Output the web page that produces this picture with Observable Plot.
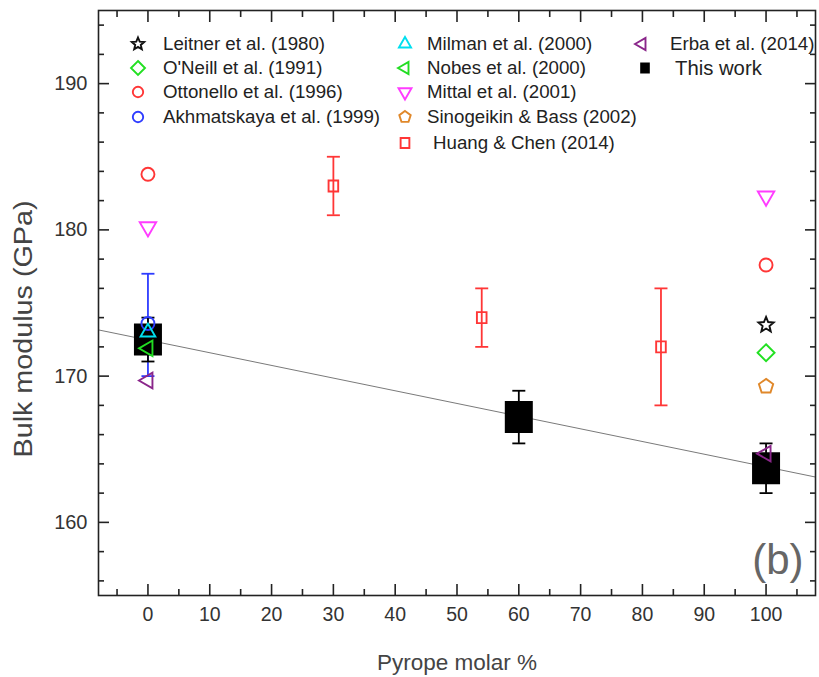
<!DOCTYPE html>
<html><head><meta charset="utf-8">
<script src="https://cdn.jsdelivr.net/npm/d3@7"></script>
<script src="https://cdn.jsdelivr.net/npm/@observablehq/plot@0.6"></script>
<style>
body{margin:0;background:#fff;font-family:"Liberation Sans",Arial,sans-serif;}
#wrap{position:relative;width:819px;height:677px;overflow:hidden;}
.lg{position:absolute;transform:translateY(-50%);white-space:nowrap;color:#222;font-size:18.7px;line-height:1;}
.ls{position:absolute;}
</style></head><body><div id="wrap"></div>
<script>
// ---------- data ----------
const studies = ["Leitner et al. (1980)", "O'Neill et al. (1991)", "Ottonello et al. (1996)", "Akhmatskaya et al. (1999)",
  "Milman et al. (2000)", "Nobes et al. (2000)", "Mittal et al. (2001)", "Sinogeikin & Bass (2002)",
  "Huang & Chen (2014)", "Erba et al. (2014)", "This work"];
const pointStudy  = [0, 1, 2, 2, 3, 4, 5, 6, 6, 7, 8, 8, 8, 9, 9, 10, 10, 10];
const pyrope      = [100, 100, 0, 100, 0, 0, 0, 0, 100, 100, 30, 54, 83, 0, 100, 0, 60, 100];
const bulkModulus = [173.5, 171.6, 183.8, 177.6, 173.6, 173.0, 171.9, 180.2, 182.3, 169.3, 183.0, 174.0, 172.0, 169.7, 164.7, 172.5, 167.2, 163.7];
const errLow      = [null, null, null, null, 170, null, null, null, null, null, 181, 172, 168, null, null, 171, 165.4, 162.0];
const errHigh     = [null, null, null, null, 177, null, null, null, null, null, 185, 176, 176, null, null, 174, 169, 165.4];
const fitX = [-8, 108];
const fitY = [173.16, 163.1];
const xMajor = [0, 10, 20, 30, 40, 50, 60, 70, 80, 90, 100];
const xMinor = [-5, 5, 15, 25, 35, 45, 55, 65, 75, 85, 95, 105];
const yMajor = [160, 170, 180, 190];
const yMinor = [156, 158, 162, 164, 166, 168, 172, 174, 176, 178, 182, 184, 186, 188, 192, 194];
const xTitle = "Pyrope molar %";
const yTitle = "Bulk modulus (GPa)";
const panelTag = "(b)";

// ---------- styles ----------
const studyColors = ["#111111", "#22e022", "#ff3636", "#2e3cff", "#00dfef", "#22dd22", "#ff3cff", "#e0882a", "#ff3636", "#8a268a", "#000000"];
function poly(pts){ return {draw(ctx,size){ const R=Math.sqrt(size/Math.PI); pts.forEach(([a,b],i)=> i? ctx.lineTo(a*R,b*R): ctx.moveTo(a*R,b*R)); ctx.closePath(); }}; }
const s3 = Math.sqrt(3)/2;
const symTriUp = poly([[0,-1],[s3,0.5],[-s3,0.5]]);
const symTriDown = poly([[0,1],[s3,-0.5],[-s3,-0.5]]);
const symTriLeft = poly([[-1,0],[0.5,-s3],[0.5,s3]]);
const symDiamond = poly([[0,-1],[1,0],[0,1],[-1,0]]);
const symPent = poly(d3.range(5).map(i=>{const a=-Math.PI/2+i*2*Math.PI/5; return [Math.cos(a),Math.sin(a)];}));
const symStar = poly(d3.range(10).map(i=>{const a=-Math.PI/2+i*Math.PI/5, r=i%2?0.45:1; return [r*Math.cos(a), r*Math.sin(a)];}));
const symCircle = {draw(ctx,size){const R=Math.sqrt(size/Math.PI); ctx.moveTo(R,0); ctx.arc(0,0,R,0,2*Math.PI);}};
const symRect = {draw(ctx,size){const R=Math.sqrt(size/Math.PI); ctx.rect(-0.875*R,-R,1.75*R,2*R);}};
const symCap = {draw(ctx,size){const R=Math.sqrt(size/Math.PI); ctx.moveTo(-R,0); ctx.lineTo(R,0);}};
const studySymbols = [symStar, symDiamond, symCircle, symCircle, symTriUp, symTriLeft, symTriDown, symPent, symRect, symTriLeft, symRect];
const studyR = [8, 8.5, 6.5, 6.5, 8.5, 9, 9.5, 7.5, 5.5, 9, 16];
const legendR = [6.5, 7, 5.2, 5.2, 7, 7, 7.5, 6, 5, 7, 5.5];

const rows = pyrope.map((x,i)=>({x, y: bulkModulus[i], s: pointStudy[i], lo: errLow[i], hi: errHigh[i]}));
const errRows = rows.filter(d=>d.lo != null);
const fit = fitX.map((x,i)=>({x, y: fitY[i]}));

const axisTicks = (anchor, data, size, isX) => (isX ? Plot.axisX : Plot.axisY)(data, {anchor, tickSize: -size, fill: "none", label: null, stroke: "#222", strokeWidth: 1.6});

const marks = [
  Plot.line(fit, {x: "x", y: "y", stroke: "#7a7a7a", strokeWidth: 1}),
  Plot.ruleX(errRows, {x: "x", y1: "lo", y2: "hi", stroke: d=>studyColors[d.s], strokeWidth: 1.8}),
  Plot.dot(errRows, {x: "x", y: "lo", symbol: symCap, r: 6.5, stroke: d=>studyColors[d.s], strokeWidth: 1.8}),
  Plot.dot(errRows, {x: "x", y: "hi", symbol: symCap, r: 6.5, stroke: d=>studyColors[d.s], strokeWidth: 1.8}),
  Plot.dot(rows.filter(d=>d.s===10), {x: "x", y: "y", symbol: symRect, r: studyR[10], fill: "#000", stroke: "none"}),
  ...studies.slice(0,10).map((name, k) => Plot.dot(rows.filter(d=>d.s===k), {x: "x", y: "y", symbol: studySymbols[k], r: studyR[k], stroke: studyColors[k], fill: "none", strokeWidth: 1.9})),
  Plot.frame({stroke: "#222", strokeWidth: 1.6}),
  axisTicks("bottom", xMajor, 11, true), axisTicks("bottom", xMinor, 6, true),
  axisTicks("top", xMajor, 11, true), axisTicks("top", xMinor, 6, true),
  axisTicks("left", yMajor, 11, false), axisTicks("left", yMinor, 6, false),
  axisTicks("right", yMajor, 11, false), axisTicks("right", yMinor, 6, false),
  Plot.axisX(xMajor, {anchor: "bottom", tickSize: 0, tickPadding: 12, fontSize: 19.5, fill: "#333", label: null}),
  Plot.axisY(yMajor, {anchor: "left", tickSize: 0, tickPadding: 11, fontSize: 20, fill: "#333", label: null}),
  Plot.text([xTitle], {text: d=>d, frameAnchor: "bottom", dy: 67, fontSize: 22.5, fill: "#444", textAnchor: "middle", lineAnchor: "middle"}),
  Plot.text([yTitle], {text: d=>d, frameAnchor: "left", dx: -75, dy: 26, rotate: -90, fontSize: 26, fill: "#444", textAnchor: "middle", lineAnchor: "middle"}),
  Plot.text([panelTag], {text: d=>d, frameAnchor: "bottom-right", dx: -12, dy: -22, fontSize: 42, fill: "#666", textAnchor: "end"})
];

const chart = Plot.plot({
  width: 819, height: 677,
  marginLeft: 98, marginRight: 4, marginTop: 10, marginBottom: 82,
  x: {domain: [-8, 108], label: null},
  y: {domain: [155, 195], label: null},
  style: {fontFamily: "'Liberation Sans', Arial, sans-serif", background: "white", overflow: "visible"},
  marks
});
// stretch the y title along its length to match the reference
chart.querySelectorAll("text").forEach(t => {
  if (t.textContent === yTitle) { t.setAttribute("textLength", 257); t.setAttribute("lengthAdjust", "spacingAndGlyphs"); }
});
const wrap = document.getElementById("wrap");
wrap.appendChild(chart);

// ---------- legend (HTML overlay) ----------
const legendCol = [0,0,0,0,1,1,1,1,1,2,2];
const legendRow = [0,1,2,3,0,1,2,3,4,0,1];
const colSymX = [138, 405, 642];
const colTextX = [163, 427, 670];
const rowY = [44, 68, 92, 117, 143];
studies.forEach((name, k) => {
  const cx = colSymX[legendCol[k]] + (k===10 ? 3 : 0);
  const cy = rowY[legendRow[k]];
  const p = d3.path();
  studySymbols[k].draw(p, Math.PI*legendR[k]*legendR[k]);
  const filled = k===10;
  const svg = `<svg class="ls" width="24" height="24" viewBox="-12 -12 24 24" style="left:${cx-12}px;top:${cy-12}px"><path d="${p}" fill="${filled?studyColors[k]:'none'}" stroke="${filled?'none':studyColors[k]}" stroke-width="1.9"/></svg>`;
  wrap.insertAdjacentHTML("beforeend", svg);
  const tx = colTextX[legendCol[k]] + (k===8 ? 6 : k===10 ? 5 : 0);
  wrap.insertAdjacentHTML("beforeend", `<div class="lg" style="left:${tx}px;top:${cy}px;${k===10?'font-size:20.3px;':''}">${name.replace(/&/g,'&amp;')}</div>`);
});
</script>
</body></html>
